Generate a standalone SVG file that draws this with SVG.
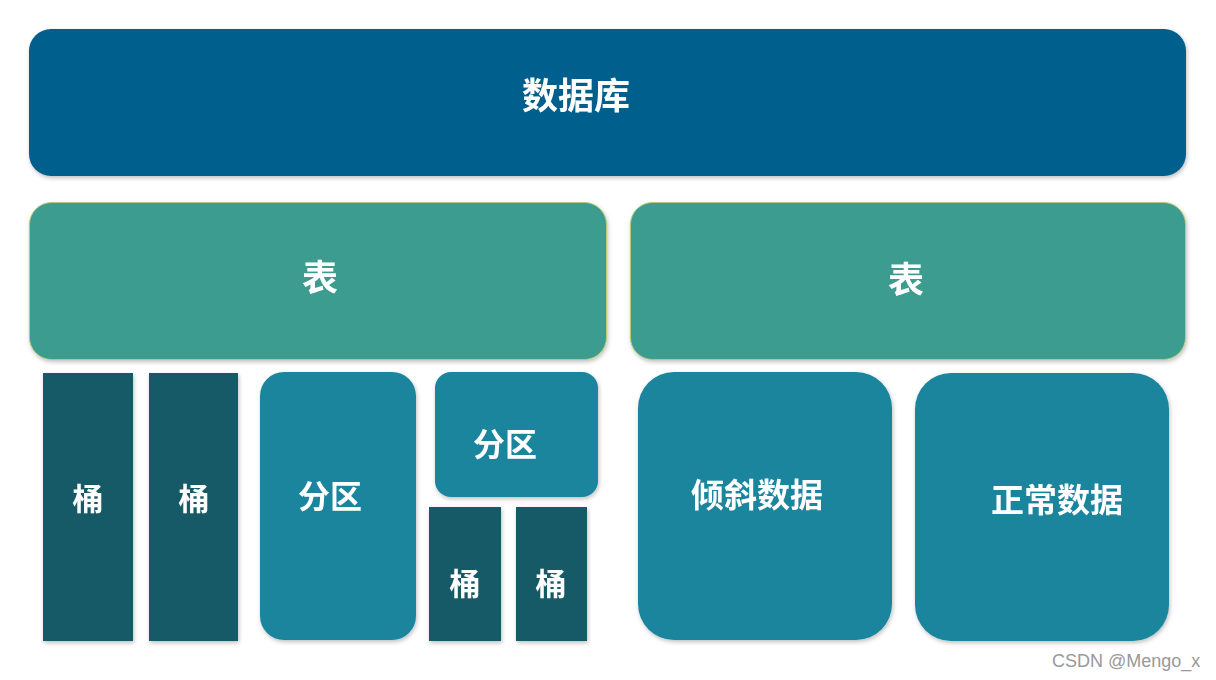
<svg xmlns="http://www.w3.org/2000/svg" width="1216" height="680" viewBox="0 0 1216 680">
<defs>
<filter id="sh" x="-5%" y="-5%" width="110%" height="115%">
<feDropShadow dx="1" dy="2" stdDeviation="2" flood-color="#000" flood-opacity="0.25"/>
</filter>
</defs>
<style>
.db{fill:#055f8c}
.tb{fill:#3a9c8f;stroke:#b5c97a;stroke-width:1}
.bk{fill:#165a68}
.pt{fill:#1b859e}
text{font-family:"Noto Sans CJK SC","Noto Sans",sans-serif;fill:#fff;font-weight:bold;text-anchor:middle;dominant-baseline:central}
.wm{font-family:"Liberation Sans",Arial,sans-serif;fill:#999;font-weight:normal;font-size:18px;text-anchor:start}
</style>
<rect width="1216" height="680" fill="#fff"/>
<g id="connectors"></g>
<g id="db" filter="url(#sh)"><rect class="db" x="29" y="29" width="1157" height="147" rx="22"/><text x="576" y="93" font-size="36">数据库</text></g>
<g id="table1" filter="url(#sh)"><rect class="tb" x="29.5" y="202.5" width="577" height="157" rx="22"/><text x="320" y="275" font-size="36">表</text></g>
<g id="table2" filter="url(#sh)"><rect class="tb" x="630.5" y="202.5" width="555" height="157" rx="22"/><text x="906" y="277" font-size="36">表</text></g>
<g id="bucket1" filter="url(#sh)"><rect class="bk" x="43" y="373" width="90" height="268"/><text x="88" y="496" font-size="31">桶</text></g>
<g id="bucket2" filter="url(#sh)"><rect class="bk" x="149" y="373" width="89" height="268"/><text x="194" y="496" font-size="31">桶</text></g>
<g id="partition1" filter="url(#sh)"><rect class="pt" x="260" y="372" width="156" height="268" rx="24"/><text x="330" y="494" font-size="32">分区</text></g>
<g id="partition2" filter="url(#sh)"><rect class="pt" x="435" y="372" width="163" height="125" rx="16"/><text x="505" y="442" font-size="32">分区</text></g>
<g id="bucket3" filter="url(#sh)"><rect class="bk" x="429" y="507" width="72" height="134"/><text x="465" y="581" font-size="31">桶</text></g>
<g id="bucket4" filter="url(#sh)"><rect class="bk" x="516" y="507" width="71" height="134"/><text x="551" y="581" font-size="31">桶</text></g>
<g id="skew" filter="url(#sh)"><rect class="pt" x="638" y="372" width="254" height="268" rx="36"/><text x="757" y="493" font-size="33">倾斜数据</text></g>
<g id="normal" filter="url(#sh)"><rect class="pt" x="915" y="373" width="254" height="268" rx="36"/><text x="1057" y="498" font-size="33">正常数据</text></g>
<text class="wm" x="1052" y="661">CSDN @Mengo_x</text>
</svg>
